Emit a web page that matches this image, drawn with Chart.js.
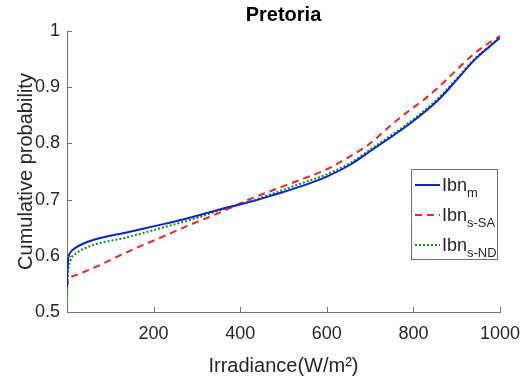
<!DOCTYPE html>
<html>
<head>
<meta charset="utf-8">
<script src="https://cdn.jsdelivr.net/npm/chart.js@4"></script>
<style>
  html, body { margin: 0; padding: 0; background: #fff; }
</style>
</head>
<body>
<canvas id="myChart" width="528" height="378"></canvas>
<script>
// irradiance (W/m2) sample points and the three cumulative curves
const irradiance = [0, 1, 3, 8, 23, 60, 140, 215, 290, 350, 423, 480, 538, 600, 654, 700, 746, 790, 823, 861, 900, 938, 977, 1000];
const ibnM   = [0.545, 0.575, 0.596, 0.606, 0.616, 0.628, 0.642, 0.655, 0.669, 0.682, 0.696, 0.709, 0.723, 0.741, 0.762, 0.786, 0.810, 0.834, 0.854, 0.880, 0.913, 0.946, 0.973, 0.988];
const ibnSSA = [0.543, 0.550, 0.555, 0.561, 0.566, 0.578, 0.607, 0.632, 0.657, 0.676, 0.701, 0.718, 0.735, 0.754, 0.777, 0.800, 0.831, 0.858, 0.877, 0.902, 0.931, 0.958, 0.980, 0.991];
const ibnSND = [0.527, 0.550, 0.575, 0.592, 0.605, 0.619, 0.633, 0.649, 0.665, 0.680, 0.697, 0.712, 0.728, 0.745, 0.765, 0.789, 0.813, 0.837, 0.857, 0.883, 0.915, 0.948, 0.974, 0.988];

const seriesBase = ['Ibn', 'Ibn', 'Ibn'];
const seriesSub = ['m', 's-SA', 's-ND'];
const xTicks = [200, 400, 600, 800, 1000];
const yTicks = [0.5, 0.6, 0.7, 0.8, 0.9, 1];

const FONT = "'Liberation Sans', Arial, Helvetica, sans-serif";
const TEXT = '#262626';
const AXIS = '#707070';

const toPts = ys => irradiance.map((x, i) => ({ x: x, y: ys[i] }));

// matlab style ticks pointing into the plot
const inwardTicks = {
  id: 'inwardTicks',
  afterDraw(chart) {
    const { ctx, chartArea, scales } = chart;
    ctx.save();
    ctx.strokeStyle = AXIS;
    ctx.lineWidth = 1;
    ctx.beginPath();
    xTicks.forEach(v => {
      const px = Math.round(scales.x.getPixelForValue(v)) + 0.5;
      ctx.moveTo(px, chartArea.bottom);
      ctx.lineTo(px, chartArea.bottom - 5);
    });
    yTicks.forEach(v => {
      const py = Math.round(scales.y.getPixelForValue(v)) + 0.5;
      ctx.moveTo(chartArea.left, py);
      ctx.lineTo(chartArea.left + 5, py);
    });
    ctx.stroke();
    ctx.restore();
  }
};

// legend box with subscripts, inside the axes
const subLegend = {
  id: 'subLegend',
  afterDraw(chart) {
    const { ctx, chartArea } = chart;
    const boxR = chartArea.right - 3, boxL = boxR - 86;
    const boxT = 169, boxB = 259;
    ctx.save();
    ctx.fillStyle = '#fff';
    ctx.fillRect(boxL, boxT, boxR - boxL, boxB - boxT);
    ctx.strokeStyle = AXIS;
    ctx.lineWidth = 1;
    ctx.strokeRect(boxL + 0.5, boxT + 0.5, boxR - boxL, boxB - boxT);
    chart.data.datasets.forEach((ds, i) => {
      const cy = boxT + 16 + i * 30;
      ctx.strokeStyle = ds.borderColor;
      ctx.lineWidth = ds.borderWidth;
      ctx.setLineDash(ds.borderDash || []);
      ctx.beginPath();
      ctx.moveTo(boxL + 4, cy);
      ctx.lineTo(boxL + 29, cy);
      ctx.stroke();
      ctx.setLineDash([]);
      ctx.fillStyle = TEXT;
      ctx.textBaseline = 'alphabetic';
      ctx.font = '18px ' + FONT;
      const tx = boxL + 31;
      ctx.fillText(seriesBase[i], tx, cy + 6);
      const w = ctx.measureText(seriesBase[i]).width;
      ctx.font = '13px ' + FONT;
      ctx.fillText(seriesSub[i], tx + w, cy + 12);
    });
    ctx.restore();
  }
};

new Chart(document.getElementById('myChart'), {
  type: 'line',
  data: {
    datasets: [
      { label: 'Ibn_m', data: toPts(ibnM), borderColor: '#0d24c8', borderWidth: 2, pointRadius: 0, cubicInterpolationMode: 'monotone', fill: false },
      { label: 'Ibn_s-SA', data: toPts(ibnSSA), borderColor: '#e8262a', borderWidth: 2, borderDash: [7, 5], pointRadius: 0, cubicInterpolationMode: 'monotone', fill: false },
      { label: 'Ibn_s-ND', data: toPts(ibnSND), borderColor: '#168a1e', borderWidth: 2, borderDash: [2, 2], pointRadius: 0, cubicInterpolationMode: 'monotone', fill: false }
    ]
  },
  options: {
    responsive: false,
    animation: false,
    devicePixelRatio: 1,
    layout: { padding: { left: 0, right: 28, top: 0, bottom: 0 } },
    plugins: {
      legend: { display: false },
      tooltip: { enabled: false },
      title: {
        display: true,
        fullSize: false,
        text: 'Pretoria',
        color: '#000',
        font: { family: FONT, size: 20, weight: 'bold' },
        padding: { top: 3, bottom: 4 }
      }
    },
    scales: {
      x: {
        type: 'linear',
        min: 0,
        max: 1000,
        grid: { display: false, drawTicks: false },
        border: { display: true, color: AXIS, width: 1 },
        ticks: {
          stepSize: 200,
          color: TEXT,
          font: { family: FONT, size: 18 },
          padding: 11,
          maxRotation: 0,
          callback: v => (v === 0 ? '' : v)
        },
        title: {
          display: true,
          text: 'Irradiance(W/m²)',
          color: TEXT,
          font: { family: FONT, size: 20 },
          padding: { top: 1, bottom: 0 }
        },
        afterFit: s => { s.height = 66; s.paddingLeft = 0; s.paddingRight = 0; }
      },
      y: {
        min: 0.5,
        max: 1,
        grid: { display: false, drawTicks: false },
        border: { display: true, color: AXIS, width: 1 },
        ticks: {
          stepSize: 0.1,
          color: TEXT,
          font: { family: FONT, size: 18 },
          padding: 7,
          callback: v => (v === 1 ? '1' : v.toFixed(1))
        },
        title: {
          display: true,
          text: 'Cumulative probability',
          color: TEXT,
          font: { family: FONT, size: 20 },
          padding: { top: 14, bottom: 0 }
        },
        afterFit: s => { s.width = 67; }
      }
    }
  },
  plugins: [inwardTicks, subLegend]
});
</script>
</body>
</html>
